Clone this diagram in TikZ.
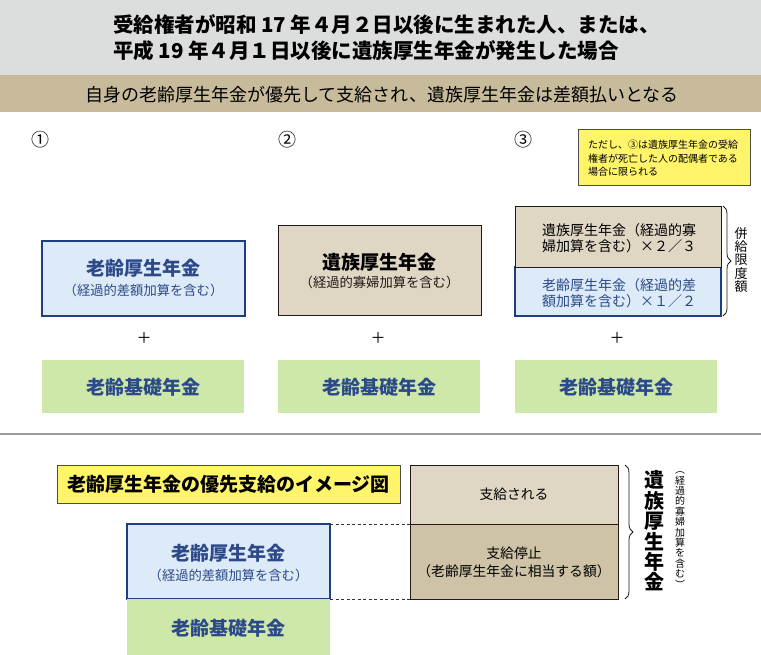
\documentclass[tikz,border=0pt]{standalone}
\usepackage{fontspec}
\setmainfont{Noto Sans CJK JP}
\usetikzlibrary{decorations.pathreplacing}
\definecolor{hdrgray}{HTML}{DCDDDD}
\definecolor{hdrtan}{HTML}{C8BB9B}
\definecolor{bluefill}{HTML}{DDEAF7}
\definecolor{blueline}{HTML}{1F3E7D}
\definecolor{bluetext}{HTML}{2C4A89}
\definecolor{tanfill}{HTML}{DFD6C4}
\definecolor{tandark}{HTML}{CEC3A6}
\definecolor{greenfill}{HTML}{CDE8A9}
\definecolor{yel}{HTML}{FFF46A}
\definecolor{ink}{HTML}{231815}
\definecolor{sepgray}{HTML}{9A9A9A}
\newcommand\fsz[2]{\fontsize{#1}{#2}\selectfont}
\begin{document}
\begin{tikzpicture}[x=1pt,y=-1pt,
  t/.style={inner sep=0pt,outer sep=0pt},
  band/.style={inner sep=0pt,outer sep=0pt,anchor=north west,draw=none},
  boxbase/.style={inner sep=0pt,outer sep=0pt,anchor=north west},
  bluebox/.style={boxbase,fill=bluefill,draw=blueline,line width=1.1pt},
  tanbox/.style={boxbase,fill=tanfill,draw=ink,line width=1pt},
  tandbox/.style={boxbase,fill=tandark,draw=ink,line width=1pt},
  greenbox/.style={boxbase,fill=greenfill},
  yelbox/.style={boxbase,fill=yel,draw=black!70,line width=1pt},
  titleb/.style={t,text=bluetext,font=\fsz{19}{22}\bfseries},
  subb/.style={t,text=bluetext,font=\fsz{13.3}{15}},
  plus/.style={t,font=\fsz{15}{16}},
  num/.style={t,font=\fsz{18}{20}},
  bracel/.style={decorate,decoration={brace,amplitude=8pt},draw=ink,line width=0.8pt},
  dashl/.style={draw=black!80,line width=0.8pt,dash pattern=on 3pt off 2.5pt}
]
\useasboundingbox (0,0) rectangle (761,654);
\fill[white] (0,0) rectangle (761,654);
% header
\node[band,fill=hdrgray,minimum width=761pt,minimum height=75pt] (hdr) at (0,0) {};
\node[band,fill=hdrtan,minimum width=761pt,minimum height=37pt] (sub) at (0,75) {};
\node[t,anchor=west,align=left,font=\fsz{20.5}{26}\bfseries] (h1) at (113,38) {受給権者が昭和 17 年４月２日以後に生まれた人、または、\\平成 19 年４月１日以後に遺族厚生年金が発生した場合};
\node[t,font=\fsz{18}{20}] (h2) at (382,95) {自身の老齢厚生年金が優先して支給され、遺族厚生年金は差額払いとなる};
% numbers
\node[num] (n1) at (40,140) {①};
\node[num] (n2) at (287,140) {②};
\node[num] (n3) at (523,140) {③};
% note
\node[yelbox,minimum width=172pt,minimum height=56pt] (nb) at (578,129) {};
\node[t,align=left,font=\fsz{10}{13.5}] (note) at (663,158.5) {ただし、③は遺族厚生年金の受給\\権者が死亡した人の配偶者である\\場合に限られる};
% column 1
\node[bluebox,minimum width=203pt,minimum height=75pt] (b1) at (42,241) {};
\node[titleb] (b1t) at (143.5,268) {老齢厚生年金};
\node[subb] (b1s) at (143.5,290) {（経過的差額加算を含む）};
\node[plus] (p1) at (144,338) {＋};
\node[greenbox,minimum width=202pt,minimum height=53pt] (g1) at (42,360) {};
\node[titleb] (g1t) at (143,387) {老齢基礎年金};
% column 2
\node[tanbox,minimum width=203pt,minimum height=90pt] (b2) at (278,225) {};
\node[t,font=\fsz{19}{22}\bfseries] (b2t) at (379.5,262) {遺族厚生年金};
\node[t,text=ink,font=\fsz{13.3}{15}] (b2s) at (379.5,282) {（経過的寡婦加算を含む）};
\node[plus] (p2) at (378,338) {＋};
\node[greenbox,minimum width=202pt,minimum height=53pt] (g2) at (278,360) {};
\node[titleb] (g2t) at (379,387) {老齢基礎年金};
% column 3
\node[boxbase,fill=bluefill,draw=blueline,line width=1.1pt,minimum width=206pt,minimum height=49pt] (b3b) at (515,267) {};
\node[tanbox,minimum width=206pt,minimum height=61pt] (b3a) at (515,206) {};
\node[t,anchor=west,align=left,font=\fsz{14}{16}] (b3at) at (542,238) {遺族厚生年金（経過的寡\\婦加算を含む）×２／３};
\node[t,anchor=west,align=left,text=bluetext,font=\fsz{14}{16}] (b3bt) at (542,293) {老齢厚生年金（経過的差\\額加算を含む）×１／２};
\draw[bracel] ([xshift=2pt]b3a.north east) -- ([xshift=2pt]b3b.south east);
\node[t,align=center,font=\fsz{13}{13.2}] (lim) at (741,260) {併\\給\\限\\度\\額};
\node[plus] (p3) at (617,338) {＋};
\node[greenbox,minimum width=202pt,minimum height=53pt] (g3) at (515,360) {};
\node[titleb] (g3t) at (616,387) {老齢基礎年金};
% separator
\coordinate (sl) at (0,434);
\coordinate (sr) at (761,434);
\draw[sepgray,line width=2.5pt] (sl) -- (sr);
% lower part
\node[yelbox,minimum width=343pt,minimum height=38pt] (yl) at (57,465) {};
\node[t,font=\fsz{19}{22}\bfseries] (ylt) at (228.5,484) {老齢厚生年金の優先支給のイメージ図};
\node[tanbox,minimum width=208pt,minimum height=59pt] (st) at (410,465) {};
\node[tandbox,minimum width=208pt,minimum height=75pt] (sb) at (410,524) {};
\node[t,font=\fsz{13.8}{15}] (stt) at (514,494) {支給される};
\node[t,font=\fsz{13.8}{15}] (sbt1) at (514,553) {支給停止};
\node[t,font=\fsz{13.8}{15}] (sbt2) at (514,571) {（老齢厚生年金に相当する額）};
\node[bluebox,minimum width=203pt,minimum height=75pt] (lb) at (127,524) {};
\node[titleb] (lbt) at (228.5,553) {老齢厚生年金};
\node[subb] (lbs) at (228.5,575) {（経過的差額加算を含む）};
\node[greenbox,minimum width=203pt,minimum height=56pt] (lg) at (127,599) {};
\node[titleb] (lgt) at (228.5,628) {老齢基礎年金};
\draw[dashl] (lb.north east) -- (sb.north west);
\draw[dashl] (lb.south east) -- (sb.south west);
\draw[bracel] ([xshift=7pt]st.north east) -- ([xshift=7pt]sb.south east);
\node[t,align=center,font=\fsz{20}{20.4}\bfseries] (vt) at (654,531) {遺\\族\\厚\\生\\年\\金};
\node[t,align=center,font=\fsz{10}{10.4}] (vs) at (680,530) {︵\\経\\過\\的\\寡\\婦\\加\\算\\を\\含\\む\\︶};
\end{tikzpicture}
\end{document}
